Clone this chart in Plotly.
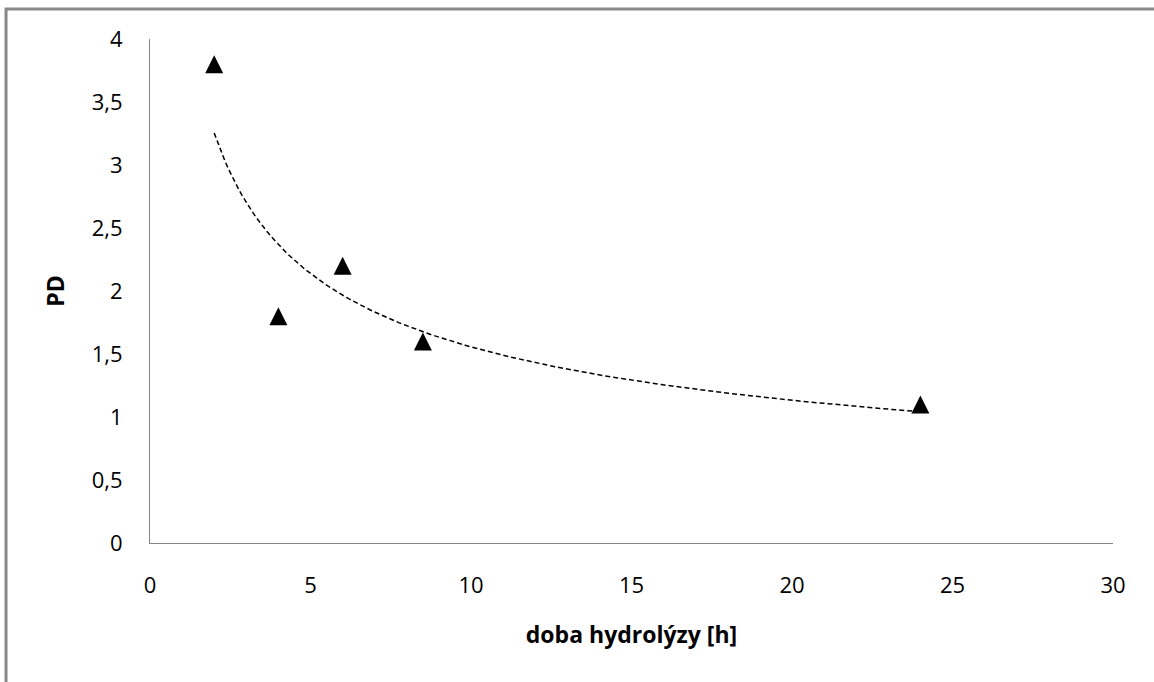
import numpy as np
import plotly.graph_objects as go

# Hydrolysis time [h] and measured PD
hydrolysis_time = [2, 4, 6, 8.5, 24]
pd_values = [3.8, 1.8, 2.2, 1.6, 1.1]

x_ticks = [0, 5, 10, 15, 20, 25, 30]
y_ticks = [0, 0.5, 1, 1.5, 2, 2.5, 3, 3.5, 4]
y_tick_text = ["0", "0,5", "1", "1,5", "2", "2,5", "3", "3,5", "4"]

# Power trendline y = a * x^b, least squares in log space
b, ln_a = np.polyfit(np.log(hydrolysis_time), np.log(pd_values), 1)
x_fit = np.linspace(min(hydrolysis_time), max(hydrolysis_time), 200)
y_fit = np.exp(ln_a) * x_fit ** b

FONT = "Open Sans"
AXIS_GREY = "#868686"

fig = go.Figure()

fig.add_trace(go.Scatter(
    x=x_fit, y=y_fit, mode="lines",
    line=dict(color="black", width=1.5, dash="5px,3px"),
    hoverinfo="skip", showlegend=False,
))

# Upward triangles centred on each point (arrow shape flipped and offset by half its size)
fig.add_trace(go.Scatter(
    x=hydrolysis_time, y=pd_values, mode="markers",
    marker=dict(symbol="arrow-down", angle=180, standoff=9, size=18,
                color="black", line=dict(width=0)),
    showlegend=False,
))

fig.update_layout(
    width=1154, height=682,
    margin=dict(l=150, r=41, t=39, b=139),
    paper_bgcolor="white", plot_bgcolor="white",
    font=dict(family=FONT, color="black"),
    shapes=[dict(
        type="rect", xref="paper", yref="paper",
        x0=-0.1495, x1=1.06, y0=-0.35, y1=1.0595,
        line=dict(color="#898989", width=3), layer="below",
    )],
)

fig.update_xaxes(
    range=[0, 30], tickvals=x_ticks,
    showline=True, linecolor=AXIS_GREY, linewidth=1,
    showgrid=False, zeroline=False, ticks="",
    tickfont=dict(size=22, family=FONT),
    ticklabelstandoff=23,
    title=dict(text="<b>doba hydrolýzy [h]</b>", font=dict(size=23, family=FONT), standoff=28),
)
fig.update_yaxes(
    range=[0, 4], tickvals=y_ticks, ticktext=y_tick_text,
    showline=True, linecolor=AXIS_GREY, linewidth=1,
    showgrid=False, zeroline=False, ticks="",
    tickfont=dict(size=22, family=FONT),
    ticklabelstandoff=22,
    title=dict(text="<b>PD</b>", font=dict(size=23, family=FONT), standoff=20),
)

fig.write_html("out.html")
